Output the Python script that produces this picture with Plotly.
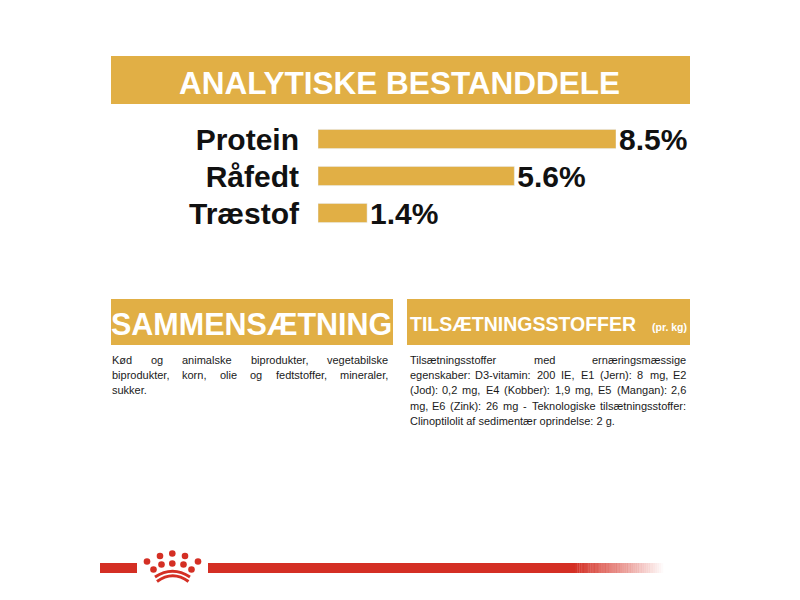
import plotly.graph_objects as go

# analytical constituents
nutrients = ['Protein', 'Råfedt', 'Træstof']
percent = [8.5, 5.6, 1.4]

title_main = 'ANALYTISKE BESTANDDELE'
title_left = 'SAMMENSÆTNING'
title_right = 'TILSÆTNINGSSTOFFER'
title_right_unit = '(pr. kg)'

composition_lines = [
    'Kød og animalske biprodukter, vegetabilske',
    'biprodukter, korn, olie og fedtstoffer, mineraler,',
    'sukker.',
]
additive_lines = [
    'Tilsætningsstoffer med ernæringsmæssige',
    'egenskaber: D3-vitamin: 200 IE, E1 (Jern): 8 mg, E2',
    '(Jod): 0,2 mg, E4 (Kobber): 1,9 mg, E5 (Mangan): 2,6',
    'mg, E6 (Zink): 26 mg - Teknologiske tilsætningsstoffer:',
    'Clinoptilolit af sedimentær oprindelse: 2 g.',
]

GOLD = '#E1AF45'
RED = '#D42F24'
W, H = 800, 600
OFF = 8  # the page body margin shifts the plot by 8px


def px(x):
    return (x - OFF) / W


def py(y):
    return 1 - (y - OFF) / H


# rough Arial / Liberation Sans widths (per em), used to justify body text
WIDTHS = {
    'a': .556, 'b': .556, 'c': .5, 'd': .556, 'e': .556, 'f': .278, 'g': .556, 'h': .556,
    'i': .222, 'j': .222, 'k': .5, 'l': .222, 'm': .833, 'n': .556, 'o': .556, 'p': .556,
    'q': .556, 'r': .333, 's': .5, 't': .278, 'u': .556, 'v': .5, 'w': .722, 'x': .5,
    'y': .5, 'z': .5, 'æ': .889, 'ø': .611, 'å': .556,
    'A': .667, 'B': .667, 'C': .722, 'D': .722, 'E': .667, 'F': .611, 'G': .778, 'H': .722,
    'I': .278, 'J': .5, 'K': .667, 'L': .556, 'M': .833, 'N': .722, 'O': .778, 'P': .667,
    'R': .722, 'S': .667, 'T': .611, 'Z': .611,
    ',': .278, '.': .278, ':': .278, '-': .333, '(': .333, ')': .333,
}


def text_width(s, size):
    return sum(WIDTHS.get(c, .556) for c in s) * size


def label(fig, x, y, text, size, color='white', xanchor='center', family='Liberation Sans', bold=True):
    fig.add_annotation(x=px(x), y=py(y), text=text, xanchor=xanchor, yanchor='middle',
                       showarrow=False, xref='paper', yref='paper', borderpad=0,
                       font=dict(family=family, size=size, color=color,
                                 weight='bold' if bold else 'normal'))


def add_paragraph(fig, lines, x_left, x_right, y_first, step, size):
    for i, line in enumerate(lines):
        y = y_first + i * step
        words = line.split()
        if i == len(lines) - 1 or len(words) == 1:
            label(fig, x_left, y, line, size, '#1a1a1a', 'left', bold=False)
            continue
        widths = [text_width(w, size) for w in words]
        gap = (x_right - x_left - sum(widths)) / (len(words) - 1)
        x = x_left
        for j, (w, wd) in enumerate(zip(words, widths)):
            if j == 0:
                xa, xx = 'left', x_left
            elif j == len(words) - 1:
                xa, xx = 'right', x_right
            else:
                xa, xx = 'center', x + wd / 2
            label(fig, xx, y, w, size, '#1a1a1a', xa, bold=False)
            x += wd + gap


fig = go.Figure()

fig.add_trace(go.Bar(
    x=percent,
    y=nutrients,
    orientation='h',
    marker_color=GOLD,
    width=0.52,
    texttemplate='%{x}%',
    textposition='outside',
    constraintext='none',
    cliponaxis=False,
    textfont=dict(family='Liberation Sans', size=30, color='#111', weight='bold'),
    hoverinfo='skip',
))

fig.update_layout(
    width=W,
    height=H,
    margin=dict(l=0, r=0, t=0, b=0),
    paper_bgcolor='white',
    plot_bgcolor='white',
    showlegend=False,
    xaxis=dict(domain=[px(318), px(616)], range=[0, max(percent)], visible=False, fixedrange=True),
    yaxis=dict(domain=[py(231.5), py(120.5)], autorange='reversed', showgrid=False,
               zeroline=False, showline=False, ticks='', ticklabelstandoff=18, fixedrange=True,
               tickfont=dict(family='Liberation Sans', size=30, color='#111', weight='bold')),
)

# gold header bands
for x0, y0, x1, y1 in [(111, 56, 690, 104), (111, 299, 393, 345), (407, 299, 690, 345)]:
    fig.add_shape(type='rect', xref='paper', yref='paper', x0=px(x0), x1=px(x1),
                  y0=py(y1), y1=py(y0), fillcolor=GOLD, line_width=0, layer='below')

label(fig, 399, 83, title_main, 31.5)
label(fig, 251, 324, title_left, 30.5)
label(fig, 409, 324, title_right, 19.5, xanchor='left')
label(fig, 688, 327, title_right_unit, 10.5, xanchor='right')

add_paragraph(fig, composition_lines, 111, 389, 360, 15, 11)
add_paragraph(fig, additive_lines, 409, 687, 360, 15.2, 11)

# red footer line with crown
fig.add_shape(type='rect', xref='paper', yref='paper', x0=px(100), x1=px(137),
              y0=py(573), y1=py(563), fillcolor=RED, line_width=0)
fig.add_shape(type='rect', xref='paper', yref='paper', x0=px(208), x1=px(575),
              y0=py(573), y1=py(563), fillcolor=RED, line_width=0)
steps = 40
for k in range(steps):
    a = 1 - (k + 1) / (steps + 1)
    fig.add_shape(type='rect', xref='paper', yref='paper', x0=px(575 + k * 2.2), x1=px(577.4 + k * 2.2),
                  y0=py(573), y1=py(563), fillcolor=f'rgba(212,47,36,{a:.3f})', line_width=0)

dots = [(172.3, 553.5), (160, 556), (185, 556), (147, 561.5), (198, 561.5),
        (161.5, 564.5), (172.3, 563.5), (183.5, 564.5), (153.5, 569.5), (191.5, 569.5)]
r = 3.3
for cx, cy in dots:
    fig.add_shape(type='circle', xref='paper', yref='paper', x0=px(cx - r), x1=px(cx + r),
                  y0=py(cy + r), y1=py(cy - r), fillcolor=RED, line_width=0)

for x0, x1, y_end, y_ctrl in [(155, 190, 577, 565.5), (157, 188.5, 581.5, 570)]:
    fig.add_shape(type='path', xref='paper', yref='paper',
                  path=f'M {px(x0)} {py(y_end)} Q {px((x0 + x1) / 2)} {py(y_ctrl)} {px(x1)} {py(y_end)}',
                  line=dict(color=RED, width=3))

fig.write_html('out.html')
